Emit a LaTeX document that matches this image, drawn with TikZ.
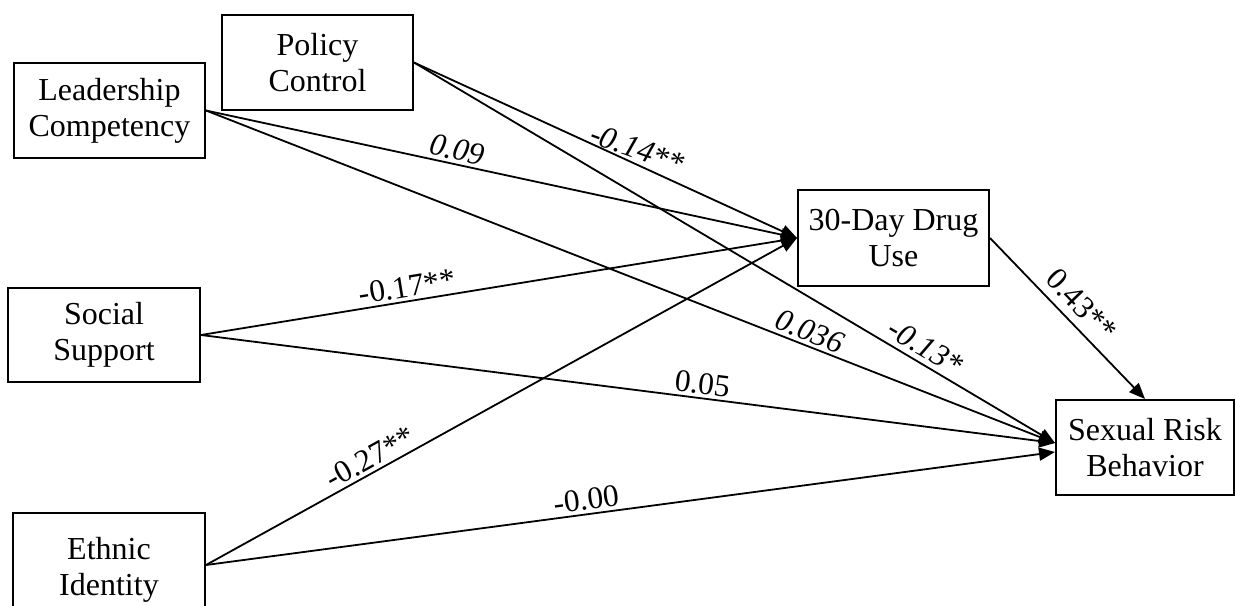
\documentclass[tikz,border=0pt]{standalone}
\usepackage{fontspec}
\setmainfont{Liberation Serif}
\usetikzlibrary{arrows.meta}
\begin{document}
\begin{tikzpicture}[x=1pt,y=-1pt,
  box/.style={draw, line width=2pt, align=center, inner sep=0pt, font=\fontsize{32}{36}\selectfont},
  conn/.style={line width=1.8pt, -{Triangle[length=16pt,width=13pt]}},
  lab/.style={font=\fontsize{31.5}{35}\selectfont, sloped, above, inner sep=3pt},
  labi/.style={lab, font=\fontsize{31.5}{35}\selectfont\itshape}]
\useasboundingbox (0,0) rectangle (1236,605);
\node[box, minimum width=191pt, minimum height=95pt] (lead) at (109.5,110.5) {Leadership\\Competency};
\node[box, minimum width=191pt, minimum height=95pt] (pol) at (317.5,62.5) {Policy\\Control};
\node[box, minimum width=192pt, minimum height=94pt] (soc) at (104,335) {Social\\Support};
\node[box, minimum width=192pt, minimum height=114pt] (eth) at (109,570) {Ethnic\\Identity};
\node[box, minimum width=191pt, minimum height=96pt] (drug) at (893.5,238) {30-Day Drug\\Use};
\node[box, minimum width=178pt, minimum height=95pt] (sex) at (1145,447.5) {Sexual Risk\\Behavior};
\coordinate (sxa) at ([yshift=4.5pt]sex.west);
\coordinate (sxb) at ([yshift=-4.5pt]sex.west);
\coordinate (ethout) at ([yshift=5pt]eth.east);
\draw[conn] (lead.east) -- node[labi, pos=0.42] {0.09} (drug.west);
\draw[conn] (pol.east) -- node[labi, pos=0.57, rotate=5] {-0.14**} (drug.west);
\draw[conn] (soc.east) -- node[lab, pos=0.35] {-0.17**} (drug.west);
\draw[conn] (ethout) -- node[lab, pos=0.29] {-0.27**} (drug.west);
\draw[conn] (lead.east) -- node[labi, pos=0.705] {0.036} (sxa);
\draw[conn] (pol.east) -- node[labi, pos=0.785, inner sep=5pt] {-0.13*} (sxa);
\draw[conn] (soc.east) -- node[lab, pos=0.585] {0.05} (sxa);
\draw[conn] (ethout) -- node[lab, pos=0.45] {-0.00} (sxb);
\draw[conn] (drug.east) -- node[lab, pos=0.5, inner sep=8pt] {0.43**} (sex.north);
\end{tikzpicture}
\end{document}
